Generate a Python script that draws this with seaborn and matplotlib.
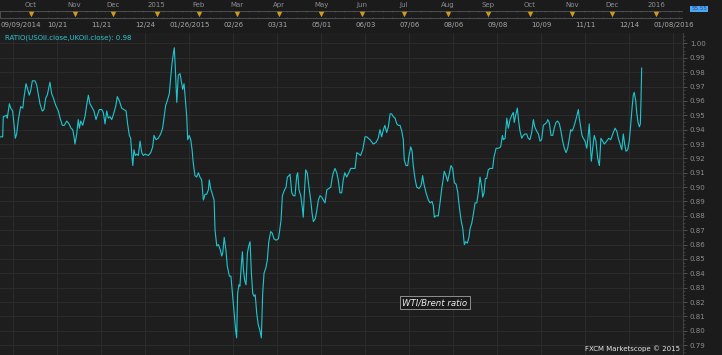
import numpy as np
import matplotlib
matplotlib.use("Agg")
import matplotlib.pyplot as plt
import seaborn as sns
from matplotlib.patches import Rectangle
from matplotlib.ticker import MultipleLocator, FixedLocator, FuncFormatter

# ---------------- data (trading days since 2014-09-09, WTI/Brent ratio) ----------------
start_date = "2014-09-09"
day = [
    0.0, 1.4, 1.7, 3.5, 3.8, 4.9, 5.6, 6.6, 7.3, 8.0,
    8.7, 9.6, 10.8, 11.9, 12.5, 13.6, 14.3, 15.3, 16.0, 16.9,
    18.3, 19.2, 20.0, 20.9, 22.1, 23.0, 23.9, 24.7, 26.1, 27.0,
    27.9, 29.1, 30.5, 31.4, 32.6, 33.6, 34.9, 36.1, 37.1, 38.0,
    38.7, 39.2, 40.1, 40.9, 41.5, 42.2, 43.2, 44.4, 45.3, 46.2,
    47.0, 47.9, 49.1, 50.2, 50.9, 51.9, 53.2, 54.0, 54.9, 55.8,
    56.6, 57.5, 58.4, 59.6, 60.6, 61.3, 62.4, 63.6, 64.8, 65.9,
    66.7, 67.6, 68.3, 69.0, 69.4, 70.0, 70.7, 71.5, 72.3, 73.2,
    74.1, 74.9, 75.8, 77.5, 78.8, 79.8, 80.5, 81.5, 82.7, 84.0,
    85.0, 85.7, 86.6, 87.4, 88.5, 89.2, 89.9, 90.6, 91.1, 91.6,
    92.4, 93.2, 94.1, 95.0, 95.5, 96.2, 96.9, 97.6, 98.1, 98.9,
    99.7, 100.4, 101.0, 101.9, 102.8, 103.7, 104.5, 105.4, 106.3, 107.2,
    108.0, 108.9, 109.4, 110.1, 111.0, 111.9, 112.4, 113.3, 114.1, 115.0,
    115.9, 116.4, 117.2, 118.1, 118.8, 119.9, 120.7, 121.6, 122.5, 123.2,
    123.7, 124.2, 124.9, 125.4, 126.1, 126.7, 127.2, 127.9, 128.6, 129.3,
    130.0, 130.7, 131.4, 132.1, 132.8, 133.4, 134.2, 135.0, 135.9, 136.6,
    137.3, 138.0, 139.0, 139.7, 140.5, 141.5, 142.3, 143.2, 144.3, 145.5,
    146.0, 146.9, 147.6, 148.4, 149.5, 150.2, 151.1, 151.6, 152.5, 153.3,
    154.2, 155.1, 155.6, 156.3, 157.2, 158.0, 158.5, 159.1, 159.8, 160.6,
    161.5, 162.4, 163.1, 163.8, 164.8, 165.5, 166.4, 167.3, 168.2, 169.0,
    169.9, 170.8, 171.8, 172.9, 173.7, 174.2, 175.1, 176.0, 176.8, 177.7,
    178.6, 179.4, 180.2, 181.2, 182.3, 183.3, 184.7, 185.6, 186.5, 187.6,
    188.5, 189.6, 190.8, 191.7, 193.4, 195.1, 196.5, 197.7, 198.6, 199.5,
    200.4, 201.2, 202.1, 203.0, 203.9, 204.7, 205.6, 206.5, 207.4, 208.2,
    209.1, 210.0, 210.8, 211.3, 212.2, 213.1, 213.8, 214.7, 215.4, 216.0,
    216.9, 217.8, 219.0, 220.1, 220.9, 221.6, 222.7, 223.9, 224.8, 225.8,
    226.5, 227.0, 227.9, 229.1, 230.0, 230.9, 231.7, 232.2, 233.1, 234.0,
    234.9, 235.7, 236.6, 237.5, 238.4, 239.2, 240.1, 241.0, 241.9, 242.7,
    243.4, 244.3, 245.1, 245.7, 246.6, 247.4, 248.3, 249.2, 250.0, 250.9,
    251.8, 252.3, 253.0, 253.7, 254.4, 255.2, 256.1, 257.5, 258.2, 259.3,
    260.5, 261.7, 262.6, 263.1, 264.0, 264.9, 265.7, 266.6, 267.5, 268.3,
    268.8, 269.7, 270.4, 271.1, 271.8, 272.7, 273.5, 274.4, 275.3, 276.1,
    277.0, 277.9, 278.8, 279.5, 280.5, 281.4, 282.3, 283.1, 284.0, 284.9,
    285.8, 286.3, 287.1, 288.0, 288.9, 289.7, 290.6, 291.5, 292.4, 293.2,
    294.1, 295.0, 295.9, 296.7, 297.6, 298.3, 299.0, 299.7, 300.6, 301.4,
    302.3, 302.8, 303.5, 304.2, 304.9, 305.8, 306.7, 307.3, 308.0, 308.6,
    309.1, 309.8, 310.6, 311.5, 312.4, 313.3, 314.1, 315.0, 315.9, 317.1,
    318.2, 319.2, 320.3, 321.5, 322.4, 323.2, 324.1, 325.0, 325.8, 326.5,
    327.2, 328.1, 328.9, 329.7, 330.3, 331.0, 331.5, 332.3, 332.8, 333.5,
    334.2, 334.7, 335.1, 335.4,
]
ratio = [
    0.935, 0.935, 0.949, 0.950, 0.948, 0.958, 0.955, 0.953, 0.944, 0.934,
    0.937, 0.947, 0.956, 0.955, 0.962, 0.972, 0.969, 0.964, 0.967, 0.974,
    0.974, 0.971, 0.965, 0.958, 0.953, 0.954, 0.962, 0.964, 0.973, 0.965,
    0.962, 0.957, 0.953, 0.948, 0.943, 0.943, 0.946, 0.944, 0.941, 0.940,
    0.935, 0.930, 0.937, 0.947, 0.941, 0.946, 0.943, 0.949, 0.957, 0.964,
    0.958, 0.956, 0.953, 0.947, 0.950, 0.954, 0.954, 0.952, 0.944, 0.953,
    0.948, 0.949, 0.947, 0.952, 0.957, 0.963, 0.960, 0.955, 0.954, 0.953,
    0.944, 0.936, 0.934, 0.921, 0.915, 0.926, 0.922, 0.923, 0.922, 0.932,
    0.924, 0.922, 0.923, 0.922, 0.924, 0.928, 0.936, 0.933, 0.934, 0.937,
    0.941, 0.948, 0.957, 0.960, 0.965, 0.976, 0.986, 0.993, 0.997, 0.984,
    0.959, 0.978, 0.979, 0.972, 0.968, 0.972, 0.961, 0.949, 0.933, 0.936,
    0.933, 0.926, 0.917, 0.908, 0.907, 0.910, 0.907, 0.905, 0.891, 0.895,
    0.895, 0.898, 0.905, 0.899, 0.895, 0.891, 0.870, 0.859, 0.860, 0.857,
    0.852, 0.854, 0.865, 0.856, 0.845, 0.838, 0.838, 0.824, 0.810, 0.800,
    0.795, 0.826, 0.832, 0.831, 0.845, 0.855, 0.843, 0.835, 0.832, 0.854,
    0.859, 0.862, 0.840, 0.826, 0.824, 0.825, 0.812, 0.804, 0.800, 0.795,
    0.826, 0.840, 0.844, 0.849, 0.862, 0.869, 0.868, 0.864, 0.863, 0.864,
    0.868, 0.877, 0.894, 0.897, 0.900, 0.907, 0.908, 0.909, 0.896, 0.894,
    0.894, 0.908, 0.910, 0.898, 0.894, 0.886, 0.879, 0.896, 0.912, 0.910,
    0.900, 0.891, 0.882, 0.876, 0.878, 0.883, 0.891, 0.894, 0.893, 0.891,
    0.889, 0.898, 0.899, 0.900, 0.907, 0.910, 0.913, 0.910, 0.905, 0.896,
    0.896, 0.905, 0.910, 0.907, 0.910, 0.913, 0.913, 0.913, 0.924, 0.923,
    0.922, 0.926, 0.935, 0.935, 0.933, 0.930, 0.931, 0.934, 0.940, 0.935,
    0.940, 0.943, 0.938, 0.942, 0.951, 0.951, 0.949, 0.948, 0.944, 0.943,
    0.943, 0.939, 0.933, 0.919, 0.915, 0.915, 0.922, 0.928, 0.925, 0.915,
    0.906, 0.900, 0.899, 0.901, 0.908, 0.902, 0.896, 0.891, 0.889, 0.890,
    0.887, 0.879, 0.880, 0.880, 0.889, 0.899, 0.906, 0.911, 0.908, 0.904,
    0.910, 0.915, 0.913, 0.903, 0.902, 0.897, 0.886, 0.877, 0.871, 0.860,
    0.862, 0.861, 0.865, 0.871, 0.875, 0.881, 0.889, 0.889, 0.896, 0.907,
    0.900, 0.893, 0.896, 0.906, 0.906, 0.912, 0.913, 0.913, 0.921, 0.927,
    0.927, 0.928, 0.936, 0.933, 0.934, 0.948, 0.941, 0.947, 0.950, 0.952,
    0.945, 0.951, 0.955, 0.946, 0.939, 0.934, 0.936, 0.937, 0.937, 0.934,
    0.933, 0.938, 0.947, 0.942, 0.939, 0.937, 0.932, 0.933, 0.943, 0.944,
    0.945, 0.947, 0.945, 0.936, 0.936, 0.941, 0.945, 0.946, 0.944, 0.939,
    0.932, 0.927, 0.924, 0.927, 0.934, 0.940, 0.939, 0.941, 0.945, 0.949,
    0.954, 0.948, 0.942, 0.936, 0.934, 0.932, 0.927, 0.934, 0.944, 0.928,
    0.918, 0.927, 0.936, 0.932, 0.920, 0.915, 0.934, 0.932, 0.930, 0.932,
    0.934, 0.933, 0.937, 0.941, 0.939, 0.934, 0.930, 0.926, 0.937, 0.930,
    0.925, 0.926, 0.932, 0.944, 0.954, 0.964, 0.966, 0.960, 0.952, 0.945,
    0.942, 0.944, 0.963, 0.983,
]
assert len(day) == len(ratio)

month_labels = ["Oct", "Nov", "Dec", "2015", "Feb", "Mar", "Apr", "May", "Jun",
                "Jul", "Aug", "Sep", "Oct", "Nov", "Dec", "2016"]
month_starts = ["2014-10-01", "2014-11-01", "2014-12-01", "2015-01-01", "2015-02-01",
                "2015-03-01", "2015-04-01", "2015-05-01", "2015-06-01", "2015-07-01",
                "2015-08-01", "2015-09-01", "2015-10-01", "2015-11-01", "2015-12-01",
                "2016-01-01"]
first_date_label = "09/09/2014"
date_labels = ["10/21", "11/21", "12/24", "01/26/2015", "02/26", "03/31", "05/01",
               "06/03", "07/06", "08/06", "09/08", "10/09", "11/11", "12/14", "01/08/2016"]
y_ticks = [0.79, 0.80, 0.81, 0.82, 0.83, 0.84, 0.85, 0.86, 0.87, 0.88, 0.89, 0.90,
           0.91, 0.92, 0.93, 0.94, 0.95, 0.96, 0.97, 0.98, 0.99, 1.00]
legend_text = "RATIO(USOil.close,UKOil.close): 0.98"
note_text = "WTI/Brent ratio"
credit_text = "FXCM Marketscope \u00a9 2015"
corner_text = "55.55"

# ---------------- style ----------------
sns.set_style("dark")
plt.rcParams["font.family"] = ["DejaVu Sans"]

W, H = 722, 355
BG = "#1e1e1e"
HEAD = "#1b1b1b"
GRID = "#2b2b2b"
LINE = "#1fc6d0"

fig = plt.figure(figsize=(W / 100, H / 100), dpi=100, facecolor=HEAD)

PW = 683  # plot width in px
PH = 322  # plot height in px
ax = fig.add_axes([0, 0, PW / W, PH / H])
ax.set_facecolor(BG)

sns.lineplot(x=day, y=ratio, ax=ax, color=LINE, linewidth=0.8,
             estimator=None, sort=False, legend=False)

x_max = 357.0
ax.set_xlim(0, x_max)
ax.set_ylim(0.7831, 1.0073)

# vertical grid positions: every 23 trading days starting at day 7
grid_days = [7 + 23 * k for k in range(len(date_labels) + 1)]
ax.xaxis.set_major_locator(FixedLocator(grid_days))
ax.tick_params(axis="x", bottom=False, labelbottom=False)
ax.yaxis.tick_right()
ax.set_yticks(y_ticks)
ax.yaxis.set_major_formatter(FuncFormatter(lambda v, p: f"{v:.2f}"))
ax.yaxis.set_minor_locator(MultipleLocator(0.0025))
ax.tick_params(axis="y", which="major", colors="#5a5a5a", labelcolor="#8e8e8e",
               labelsize=5, length=3, width=0.6, pad=2)
ax.tick_params(axis="y", which="minor", colors="#4a4a4a", length=1.5, width=0.5)
ax.grid(True, which="major", color=GRID, linewidth=0.8)
ax.set_xlabel("")
ax.set_ylabel("")
for s in ["left", "top", "bottom"]:
    ax.spines[s].set_visible(False)
ax.spines["right"].set_color("#4a4a4a")
ax.spines["right"].set_linewidth(0.6)

ax.text(5 / PW, 1 - 4.5 / PH, legend_text, transform=ax.transAxes,
        ha="left", va="center", fontsize=5, color="#2cc8d2")

ax.text(435 / PW, (PH - (302.5 - 33)) / PH, note_text, transform=ax.transAxes,
        ha="center", va="center", fontsize=6.2, style="italic", color="#ececec",
        bbox=dict(boxstyle="square,pad=0.25", fc="#1a1a1a", ec="#a0a0a0", lw=0.6))

fig.text(680 / W, 1 - 349 / H, credit_text, ha="right", va="center",
         fontsize=5, color="#e6e6e6")

# ---------------- header (month strip + date labels) ----------------
hx = fig.add_axes([0, PH / H, PW / W, (H - PH) / H])
hx.set_xlim(0, x_max)
hx.set_ylim(H - PH, 0)
hx.axis("off")

month_pos = np.busday_count(start_date, month_starts)
hx.add_patch(Rectangle((0, 10.5), x_max, 7.5, fc="#1c1c1c", ec="#555555", lw=0.6))
ruler = np.arange(0, x_max, 5)
hx.vlines(ruler, 10.5, 12.0, color="#5a5a5a", lw=0.5)
hx.vlines(ruler, 16.5, 18.0, color="#5a5a5a", lw=0.5)
hx.scatter(month_pos, [13.5] * len(month_pos), marker="v", s=16, color="#d09a1c",
           linewidths=0)
for p, lab in zip(month_pos, month_labels):
    hx.text(p, 5, lab, ha="center", va="center", fontsize=5, color="#8e8e8e")

hx.text(0.3, 25.5, first_date_label, ha="left", va="center", fontsize=5, color="#a8a8a8")
for g, lab in zip(grid_days[1:], date_labels):
    hx.text(g, 25.5, lab, ha="center", va="center", fontsize=5, color="#a8a8a8")

fig.text(699 / W, 1 - 9 / H, corner_text, ha="center", va="center", fontsize=4,
         color="#1d4f8f", bbox=dict(boxstyle="square,pad=0.15", fc="#4fa6f2", ec="none"))

fig.savefig("out.png", dpi=100, facecolor=HEAD)
